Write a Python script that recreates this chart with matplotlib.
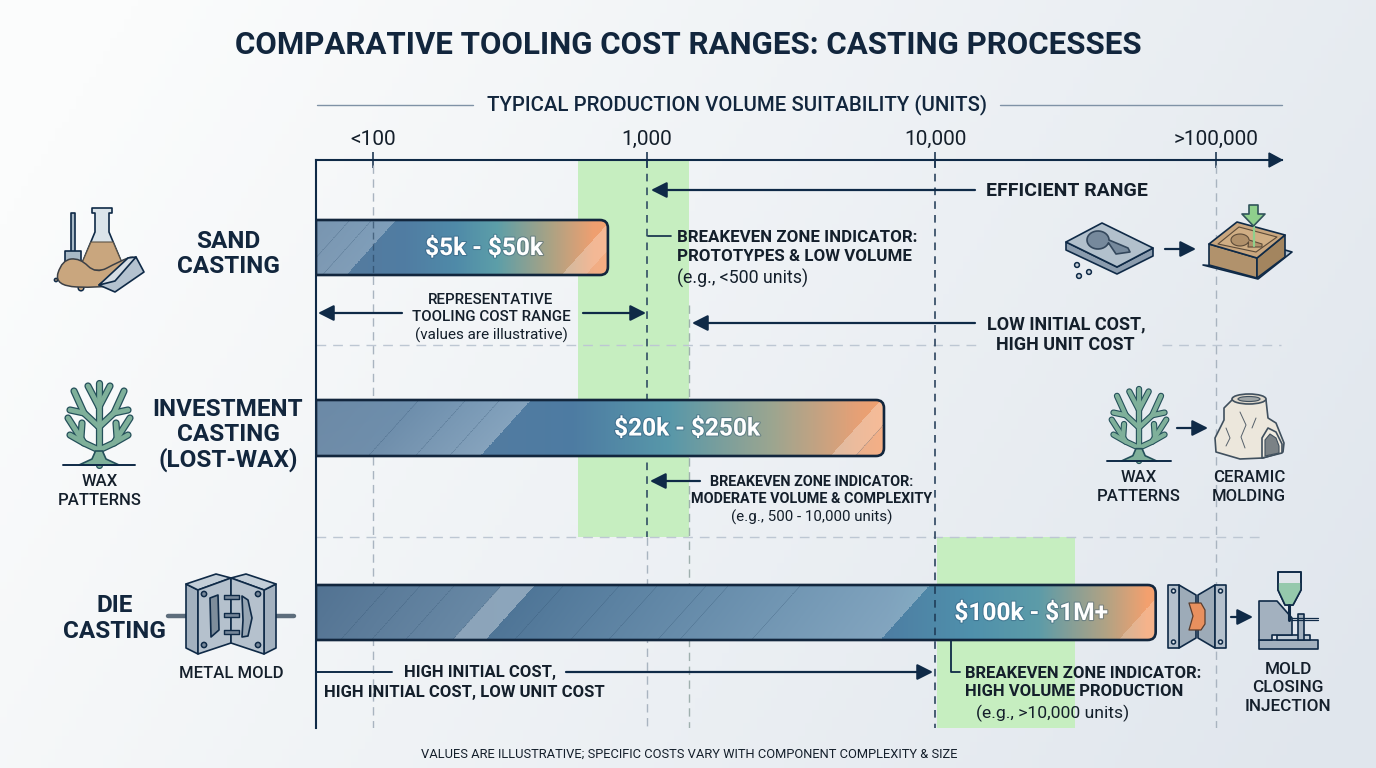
import numpy as np
import matplotlib
matplotlib.use('Agg')
import matplotlib.pyplot as plt
from matplotlib.colors import to_rgb
from matplotlib.patches import Polygon, Circle, Ellipse, PathPatch, FancyArrowPatch
from matplotlib.path import Path
from matplotlib.transforms import IdentityTransform
import matplotlib.patheffects as pe

plt.rcParams['font.family'] = ['Roboto', 'DejaVu Sans']

## data
processes = ['SAND\nCASTING', 'INVESTMENT\nCASTING\n(LOST-WAX)', 'DIE\nCASTING']
cost_labels = ['$5k - $50k', '$20k - $250k', '$100k - $1M+']
volume_ticks = [100, 1000, 10000, 100000]
tick_labels = ['<100', '1,000', '10,000', '>100,000']
# volume where each bar stops on the axis
bar_end_volumes = [720, 6650, 61000]
# green breakeven zones: volume from, volume to
zone_volumes = [(560, 1400), (10150, 31500)]
zone_rows = [(160, 537), (537, 728)]

## layout, in pixels of the 1376x768 picture
W, H = 1376, 768
AX_L, AX_R, AX_T, AX_B = 316, 1282, 160, 728
bar_tops = [220, 400, 585]
bar_bottoms = [275, 456, 640]
label_x = [228, 228, 115]
label_y = [253, 434, 617.5]

NAVY = '#0f2a47'
INK = '#141f2b'
GREEN = '#c6eec0'

LOG_KNOTS = [1, 2, 3, 4, 5, 6]
PX_KNOTS = [99, 373, 647, 935, 1216, 1497]

def forward(v):
	return np.interp(np.log10(np.maximum(v, 1e-3)), LOG_KNOTS, PX_KNOTS)

def inverse(p):
	return 10 ** np.interp(p, PX_KNOTS, LOG_KNOTS)

fig = plt.figure(figsize=(W / 100, H / 100), dpi=100)

# background
bg = fig.add_axes([0, 0, 1, 1], zorder=0)
bg.axis('off')
gx, gy = np.meshgrid(np.linspace(0, 1, 200), np.linspace(0, 1, 120))
t = np.clip(0.82 * gx + 0.28 * gy - 0.08, 0, 1)[..., None]
bg.imshow((1 - t) * np.array(to_rgb('#fbfcfc')) + t * np.array(to_rgb('#e0e6ed')), aspect='auto')

# chart axes, volume scale on x, picture rows on y
ax = fig.add_axes([AX_L / W, 1 - AX_B / H, (AX_R - AX_L) / W, (AX_B - AX_T) / H], zorder=1)
ax.patch.set_alpha(0)
ax.set_xscale('function', functions=(forward, inverse))
ax.set_xlim(inverse(AX_L), inverse(AX_R))
ax.set_ylim(AX_B, AX_T)
ax.set_xticks(volume_ticks)
ax.set_xticklabels(tick_labels, fontsize=15, color=INK)
ax.minorticks_off()
ax.set_yticks([])
ax.xaxis.tick_top()
ax.tick_params(axis='x', direction='inout', length=12, width=1.1, color=NAVY, pad=2)
for s in ['right', 'bottom']:
	ax.spines[s].set_visible(False)
for s in ['left', 'top']:
	ax.spines[s].set_linewidth(1.5)
	ax.spines[s].set_color(NAVY)

# overlay in picture pixels for labels and icons
ov = fig.add_axes([0, 0, 1, 1], zorder=2)
ov.set_xlim(0, W)
ov.set_ylim(H, 0)
ov.axis('off')

## zones and guides
for (v0, v1), (y0, y1) in zip(zone_volumes, zone_rows):
	ax.fill_betweenx([y0, y1], v0, v1, color=GREEN, lw=0, zorder=1)

GREY = '#a9b4c0'
ax.plot([100, 100], [165, AX_B], color=GREY, lw=1, ls=(0, (6, 4)), zorder=2)
ax.plot([100, 100], [221, 274], color='#24405c', lw=1, ls=(0, (5, 3)), alpha=0.6, zorder=6)
ax.plot([1000, 1000], [160, 537], color='#24405c', lw=1.1, ls=(0, (5, 4)), zorder=2)
ax.plot([1000, 1000], [537, AX_B], color=GREY, lw=1, ls=(0, (6, 4)), zorder=2)
ax.plot([1400, 1400], [305, AX_B], color='#9fb0ae', lw=1, ls=(0, (6, 4)), zorder=2)
ax.plot([100000, 100000], [165, AX_B], color=GREY, lw=1, ls=(0, (6, 4)), zorder=2)
ax.plot([10000, 10000], [160, AX_B], color='#1c3652', lw=1.1, ls=(0, (5, 4)), zorder=6)
for y, x_ranges in [(345, [(316, 978), (1162, 1281)]), (537, [(316, 1265)])]:
	for x0, x1 in x_ranges:
		ax.plot(inverse(np.array([x0, x1])), [y, y], color='#bdc7d3', lw=1, ls=(0, (7, 5)), zorder=2)

## bars
bar_stops = [
	[(0, '#567a9c'), (0.3, '#507ca2'), (0.48, '#4f8aa8'), (0.62, '#5c9ea8'), (0.8, '#a9a284'), (0.95, '#ee9f70'), (1, '#f3a06e')],
	[(0, '#5b7c9c'), (0.45, '#4d7ba2'), (0.62, '#5797a9'), (0.8, '#9aa590'), (0.95, '#e4a076'), (1, '#f3a06e')],
	[(0, '#4a6c8d'), (0.68, '#4d7ea3'), (0.78, '#4f90ab'), (0.86, '#5c9ba8'), (0.94, '#b0a284'), (0.99, '#f3a06e'), (1, '#f3a06e')],
]
# white sheen on the skew position: from, to, alpha at start, alpha at end
bar_bands = [
	[(266, 346, 0.2, 0.26), (561, 585, 0.26, 0.26), (585, 660, 0.14, 0.14)],
	[(266, 368, 0.1, 0.14), (368, 480, 0.14, 0.3), (830, 855, 0.28, 0.28), (855, 930, 0.16, 0.16)],
	[(266, 452, 0.04, 0.16), (452, 485, 0.36, 0.36), (485, 880, 0.02, 0.3), (1118, 1175, 0.2, 0.2)],
]
bar_lines = [
	[300, 322],
	[368, 415, 449, 855],
	[340, 371, 405, 452, 514, 570, 608, 657, 679, 751],
]

def bar_colors(xs, ys, bottom, height, stops, bands, lines):
	frac = (xs - xs[0]) / (xs[-1] - xs[0])
	pos = [s[0] for s in stops]
	rgb = np.array([to_rgb(s[1]) for s in stops])
	base = np.stack([np.interp(frac, pos, rgb[:, i]) for i in range(3)], axis=-1)
	img = np.repeat(base[None, :, :], len(ys), axis=0)
	gx, gy = np.meshgrid(xs, ys)
	skew = gx - 0.9 * (bottom - gy)
	for s0, s1, a0, a1 in bands:
		a = np.where((skew >= s0) & (skew < s1), a0 + (a1 - a0) * (skew - s0) / (s1 - s0), 0)[..., None]
		img = img * (1 - a) + a
	for s in lines:
		a = (0.3 * np.clip(1 - np.abs(skew - s) / 0.9, 0, 1))[..., None]
		img = img * (1 - a) + a * np.array(to_rgb('#2a4a68'))
	return img

for i, end_v in enumerate(bar_end_volumes):
	top, bottom = bar_tops[i], bar_bottoms[i]
	left_v = ax.get_xlim()[0]
	# transparent bar, its extent gives the outline below
	ax.barh((top + bottom) / 2, end_v - left_v, left=left_v, height=bottom - top, color='none', zorder=3)
	p_l = ax.transData.transform((left_v, bottom))
	p_r = ax.transData.transform((end_v, top))
	x0, y0, x1, y1 = p_l[0], p_l[1], p_r[0], p_r[1]
	r = 8
	outline = Path(
		[(x0, y0), (x1 - r, y0), (x1, y0), (x1, y0 + r), (x1, y1 - r), (x1, y1), (x1 - r, y1), (x0, y1), (x0, y0)],
		[Path.MOVETO, Path.LINETO, Path.CURVE3, Path.CURVE3, Path.LINETO, Path.CURVE3, Path.CURVE3, Path.LINETO, Path.CLOSEPOLY])
	edge = PathPatch(outline, transform=IdentityTransform(), fc='none', ec='#12263d', lw=1.9, zorder=5)
	ax.add_patch(edge)

	xs = np.arange(AX_L, forward(end_v) + 0.5, 0.5)
	ys = np.arange(top, bottom + 0.5, 0.5)
	img = bar_colors(0.5 * (xs[:-1] + xs[1:]), 0.5 * (ys[:-1] + ys[1:]), bottom, bottom - top,
		bar_stops[i], bar_bands[i], bar_lines[i])
	mesh = ax.pcolormesh(inverse(xs), ys, img, shading='flat', zorder=4, antialiased=False, rasterized=True)
	mesh.set_clip_path(edge)

ax.set_xlim(inverse(AX_L), inverse(AX_R))
ax.set_ylim(AX_B, AX_T)

## icon helpers
def poly(pts, fc='none', ec=NAVY, lw=1.2, z=3):
	ov.add_patch(Polygon(pts, closed=True, fc=fc, ec=ec, lw=lw, zorder=z, joinstyle='round'))

def blob(pts, fc='none', ec=NAVY, lw=1.1, z=3):
	# closed smooth outline through the edge midpoints
	pts = np.array(pts, dtype=float)
	mids = 0.5 * (pts + np.roll(pts, -1, axis=0))
	verts = [mids[-1]]
	codes = [Path.MOVETO]
	for p, m in zip(pts, mids):
		verts += [p, m]
		codes += [Path.CURVE3, Path.CURVE3]
	ov.add_patch(PathPatch(Path(verts, codes), fc=fc, ec=ec, lw=lw, zorder=z))

def line(xs, ys, color=NAVY, lw=1.2, z=3):
	ov.plot(xs, ys, color=color, lw=lw, zorder=z, solid_capstyle='round')

def circ(x, y, r, fc='none', ec=NAVY, lw=1.1, z=4):
	ov.add_patch(Circle((x, y), r, fc=fc, ec=ec, lw=lw, zorder=z))

def arrow(x0, y0, x1, y1, lw=1.6):
	ov.add_patch(FancyArrowPatch((x0, y0), (x1, y1), arrowstyle='-|>,head_length=0.95,head_width=0.48',
		mutation_scale=10, color=NAVY, lw=lw, shrinkA=0, shrinkB=0, zorder=3))

def txt(x, y, s, size=12, weight='medium', color=INK, ha='center', spacing=1.3, **kw):
	ov.text(x, y + 1, s, fontsize=size, fontweight=weight, color=color, ha=ha, va='center', linespacing=spacing,
		zorder=6, parse_math=False, **kw)

def tree(cx, base, k):
	half = [
		[(0, -58), (-11, -79)],
		[(0, -38), (-15, -52), (-25, -74)], [(-15, -52), (-29, -55)],
		[(0, -15), (-15, -22), (-31, -47)], [(-15, -22), (-29, -30)], [(-18, -28), (-17, -42)],
	]
	branches = [[(0, 0), (0, -58), (0, -82)]] + half + [[(-x, y) for x, y in b] for b in half]
	for lw, col, z in [(5.2, '#24505a', 3), (3.4, '#7fb09a', 4)]:
		for b in branches:
			b = np.array(b, dtype=float) * k
			ov.plot(cx + b[:, 0], base + b[:, 1], color=col, lw=lw * k, zorder=z,
				solid_capstyle='round', solid_joinstyle='round')
	poly([(cx - 20 * k, base), (cx - 7 * k, base - 6 * k), (cx - 3.5 * k, base - 14 * k), (cx + 3.5 * k, base - 14 * k),
		(cx + 7 * k, base - 6 * k), (cx + 20 * k, base)], fc='#7fb09a', ec='#24505a', z=5)
	line([cx - 36 * k, cx + 36 * k], [base, base], lw=1.4, z=6)

## sand icon
SAND = '#c9a67e'
poly([(71, 213), (75, 213), (75, 252), (71, 252)], fc='#a9b9c6', z=3)
poly([(65, 251), (81, 251), (81, 265), (73, 270), (65, 265)], fc='#a9b9c6', z=3)
poly([(92, 208), (112, 208), (112, 213), (109, 213), (109, 232), (124, 268), (80, 268), (95, 232), (95, 213), (92, 213)], fc='#dbe4ea', z=4)
poly([(91, 242), (113, 242), (125, 270), (79, 270)], fc=SAND, ec='#5d5346', lw=0.8, z=5)
blob([(54, 286), (62, 260), (80, 258), (96, 274), (118, 262), (138, 254), (126, 282), (100, 288)], fc=SAND, ec='#3c4046', lw=1.1, z=5)
poly([(99, 285), (136, 257), (144, 272), (115, 292)], fc='#b4c2cf', z=6)
poly([(99, 285), (128, 258), (136, 257), (115, 281)], fc='#d5dde4', z=6)
circ(56, 280, 1.6, fc=SAND)
circ(81, 288, 2.8, fc=SAND)

tree(99, 465, 1.0)

## metal mold icon
line([168, 186], [616, 616], color='#5d6d7c', lw=3.2, z=2)
line([277, 294], [616, 616], color='#5d6d7c', lw=3.2, z=2)
for sgn in [1, -1]:
	m = lambda p: (231 + sgn * (p[0] - 231), p[1])
	poly([m(p) for p in [(186, 584), (198, 590), (198, 654), (186, 648)]], fc='#a3b1bf', z=3)
	poly([m(p) for p in [(186, 584), (216, 574), (231, 578), (198, 590)]], fc='#c3ced8', z=3)
	poly([m(p) for p in [(198, 590), (231, 578), (231, 643), (198, 654)]], fc='#b5c1cd', z=3)
	circ(*m((204, 594)), 2.6, fc='#77889a', z=4)
	circ(*m((204, 645)), 2.6, fc='#77889a', z=4)
poly([(210, 598), (218, 595), (219, 630), (211, 637)], fc='#7e8d9b', z=4)
poly([(242, 596), (248, 600), (252, 618), (248, 636), (242, 637), (243, 620)], fc='#97a6b4', z=4)
for y in [597, 615, 632]:
	poly([(224, y - 2), (239, y - 2), (239, y + 2), (224, y + 2)], fc='#76879a', lw=1, z=5)

## sand casting flow on the right
poly([(1066, 242), (1066, 250), (1117, 274), (1153, 256), (1153, 248), (1117, 267)], fc='#8b9cae', z=3)
poly([(1066, 242), (1102, 223), (1153, 248), (1117, 267)], fc='#b2c0cc', z=3)
th = np.linspace(0.1 * np.pi, 2.0 * np.pi, 40)
poly(list(zip(1098 + 11 * np.cos(th), 240 + 9 * np.sin(th))) + [(1128, 248), (1130, 252), (1116, 254)],
	fc='#76899c', ec='#33475c', z=4)
for p in [(1077, 265), (1089, 272), (1079, 276)]:
	circ(*p, 2.4, fc='#c9d2da')
arrow(1165, 249, 1196, 249)
poly([(1203, 265), (1258, 279), (1292, 252), (1285, 250), (1257, 270)], fc='#b2c3d2', z=2)
poly([(1209, 244), (1257, 258), (1257, 278), (1209, 265)], fc='#b1926c', z=3)
poly([(1257, 258), (1285, 235), (1285, 257), (1257, 278)], fc='#a3855f', z=3)
poly([(1209, 244), (1237, 222), (1285, 235), (1257, 258)], fc='#c9a67e', z=3)
poly([(1218, 244), (1239, 227), (1277, 237), (1256, 252)], fc='#d0ae84', ec='#5c4b39', lw=0.8, z=4)
poly(list(zip(1240 + 9 * np.cos(th), 240 + 6 * np.sin(th))) + [(1262, 244), (1262, 247), (1248, 247)],
	fc='#b0906a', ec='#5c4b39', lw=0.8, z=5)
poly([(1249, 205), (1258, 205), (1258, 214), (1265, 214), (1253.5, 226), (1242, 214), (1249, 214)], fc='#8fd08c', ec='#31545a', z=7)
line([1253.5, 1253.5], [226, 246], color='#8fd08c', lw=1.6, z=6)

## wax to ceramic flow
tree(1139, 461, 0.88)
arrow(1177, 428, 1208, 428)
poly([(1232, 400), (1266, 400), (1268, 418), (1276, 423), (1284, 443), (1283, 452), (1263, 458),
	(1240, 459), (1216, 452), (1215, 438), (1224, 420), (1224, 408)], fc='#ece7dc', ec='#40505e', z=3)
ov.add_patch(Ellipse((1249, 399), 34, 10, fc='#dfd9cd', ec='#40505e', lw=1.2, zorder=4))
ov.add_patch(Ellipse((1249, 399), 22, 5, fc='#9fa5a6', ec='#40505e', lw=0.8, zorder=5))
poly([(1262, 458), (1262, 438), (1268, 428), (1276, 432), (1282, 444), (1282, 453)], fc='#f0ebe0', ec='#40505e', z=4)
poly([(1265, 456), (1265, 440), (1270, 434), (1276, 438), (1279, 446), (1279, 453)], fc='#7b8286', ec='#40505e', lw=0.8, z=5)
line([1240, 1246, 1241, 1245], [412, 425, 437, 448], color='#55606a', lw=0.7, z=5)
line([1226, 1230, 1226], [428, 438, 446], color='#55606a', lw=0.7, z=5)
line([1256, 1252], [418, 428], color='#55606a', lw=0.7, z=5)

## die closing and injection
for sgn in [1, -1]:
	m = lambda p: (1197 + sgn * (p[0] - 1197), p[1])
	poly([m(p) for p in [(1179, 585), (1196, 595), (1196, 638), (1179, 648)]], fc='#9dabb8', z=3)
	poly([m(p) for p in [(1168, 585), (1179, 585), (1179, 648), (1168, 648)]], fc='#b5c1cd', z=4)
	circ(*m((1173.5, 591)), 2, fc='#dfe5ea', z=5)
	circ(*m((1173.5, 642)), 2, fc='#dfe5ea', z=5)
poly([(1189, 603), (1201, 603), (1205, 610), (1205, 624), (1201, 630), (1189, 630), (1193, 616)], fc='#e8905e', ec='#5a3d2e', lw=0.9, z=6)
arrow(1231, 617, 1253, 617)
poly([(1259, 640), (1318, 640), (1318, 649), (1259, 649)], fc='#a3b1bf', z=3)
poly([(1277, 635), (1310, 635), (1310, 640), (1277, 640)], fc='#c3ced8', z=3)
poly([(1259, 601), (1277, 601), (1292, 618), (1292, 635), (1272, 635), (1272, 640), (1259, 640)], fc='#a3b1bf', z=4)
poly([(1298, 614), (1304, 614), (1304, 640), (1298, 640)], fc='#a3b1bf', z=4)
poly([(1278, 572), (1301, 572), (1301, 590), (1293, 605), (1285, 605), (1278, 590)], fc='#dfe5ea', z=5)
poly([(1278, 583), (1301, 583), (1301, 590), (1293, 605), (1285, 605), (1278, 590)], fc='#95c9ac', ec='none', z=5)
poly([(1278, 572), (1301, 572), (1301, 590), (1293, 605), (1285, 605), (1278, 590)], z=5)
line([1289, 1289], [605, 620], lw=2.2, z=5)
line([1292, 1318], [618, 618], lw=0.9, z=5)
line([1292, 1318], [620, 620], lw=0.9, z=5)

## text
txt(688, 43.5, 'COMPARATIVE TOOLING COST RANGES: CASTING PROCESSES', size=22.5, weight='bold', color='#12263d')
txt(737, 104, 'TYPICAL PRODUCTION VOLUME SUITABILITY (UNITS)', size=14.7, weight='medium', color='#12263d')
line([317, 473], [105, 105], color='#7f92a6', lw=1)
line([1000, 1282], [105, 105], color='#7f92a6', lw=1)
ov.add_patch(Polygon([(1282, 160), (1269, 153), (1269, 167)], fc=NAVY, ec=NAVY, zorder=4))

for i, name in enumerate(processes):
	txt(label_x[i], label_y[i], name, size=17.5, weight='bold', color='#12263d', spacing=1.12)
for i, label in enumerate(cost_labels):
	x_c = [484, 687, 1031][i]
	ov.text(x_c, (bar_tops[i] + bar_bottoms[i]) / 2 + 1, label, fontsize=17.6, fontweight='bold', color='white',
		ha='center', va='center', zorder=7, parse_math=False,
		path_effects=[pe.withStroke(linewidth=1.6, foreground='#24486a', alpha=0.35)])

txt(100, 490, 'WAX\nPATTERNS', size=12)
txt(231, 673, 'METAL MOLD', size=12)
txt(1139, 486, 'WAX\nPATTERNS', size=12)
txt(1249, 486, 'CERAMIC\nMOLDING', size=12)
txt(1288, 687, 'MOLD\nCLOSING\nINJECTION', size=12.3)

# efficient range
arrow(975, 190, 651, 190)
txt(1067, 190, 'EFFICIENT RANGE', size=14, weight='bold')

# sand notes
line([648, 671], [236, 236], lw=1.2)
txt(677, 246, 'BREAKEVEN ZONE INDICATOR:\nPROTOTYPES & LOW VOLUME', size=12.2, weight='bold', ha='left')
txt(677, 277, '(e.g., <500 units)', size=12.8, weight='normal', ha='left')
arrow(402, 313, 318, 313)
arrow(583, 313, 646, 313)
txt(491, 307.5, 'REPRESENTATIVE\nTOOLING COST RANGE', size=10.9)
txt(491, 334, '(values are illustrative)', size=11, weight='normal')
arrow(975, 323, 692, 323)
txt(987, 333.5, 'LOW INITIAL COST,\n  HIGH UNIT COST', size=13, weight='bold', ha='left', spacing=1.15)

# investment notes
arrow(700, 481, 650, 481)
txt(812, 489.5, 'BREAKEVEN ZONE INDICATOR:\nMODERATE VOLUME & COMPLEXITY', size=10.4, weight='bold')
txt(812, 516, '(e.g., 500 - 10,000 units)', size=10.9, weight='normal')

# die notes
line([316, 392], [672, 672], lw=1.4)
arrow(566, 672, 933, 672)
txt(480, 671, 'HIGH INITIAL COST,', size=12, weight='bold')
txt(464, 691, 'HIGH INITIAL COST, LOW UNIT COST', size=12, weight='bold')
line([951, 951, 960], [641, 672, 672], lw=1.3)
txt(965, 681.5, 'BREAKEVEN ZONE INDICATOR:\nHIGH VOLUME PRODUCTION', size=11.95, weight='bold', ha='left')
txt(976, 712, '(e.g., >10,000 units)', size=12.6, weight='normal', ha='left')

txt(689, 753, 'VALUES ARE ILLUSTRATIVE; SPECIFIC COSTS VARY WITH COMPONENT COMPLEXITY & SIZE', size=9.3, weight='normal')

fig.savefig('out.png', dpi=100)
